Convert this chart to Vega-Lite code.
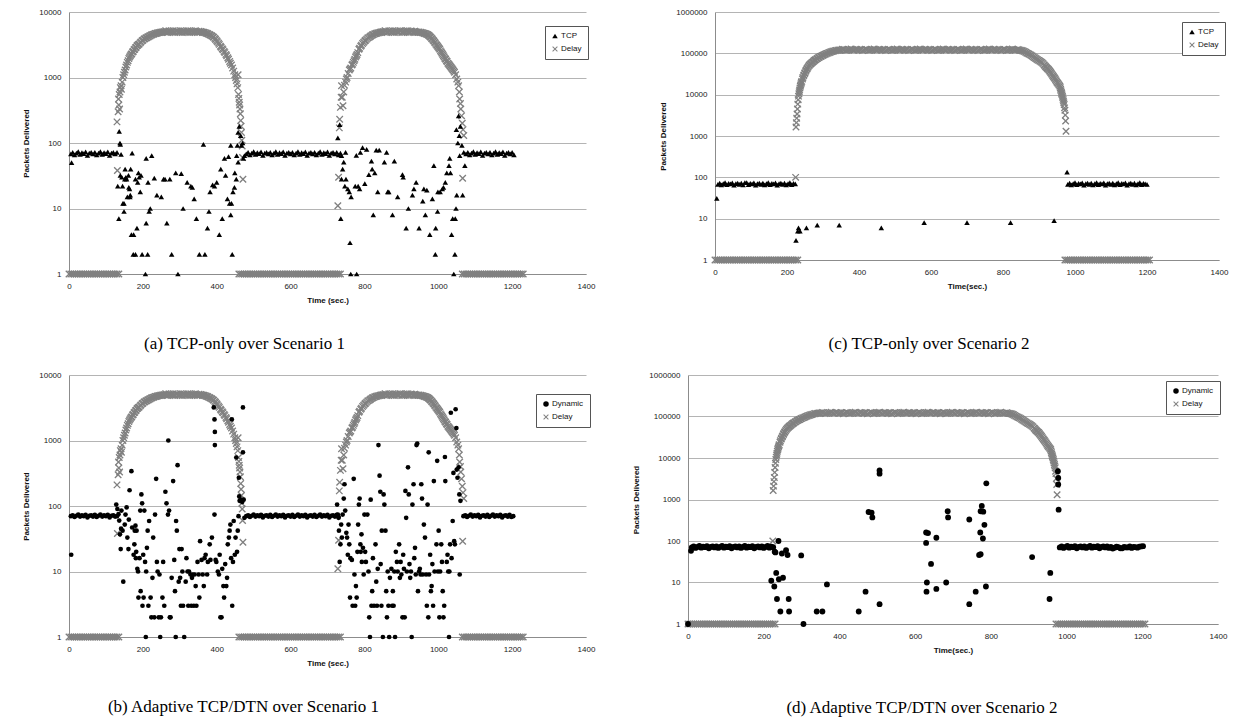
{
"$schema": "https://vega.github.io/schema/vega-lite/v6.json",
"padding": {"left": 22, "top": 8, "right": 3, "bottom": 3},
"background": "white",
"config": {
 "view": {"stroke": null},
 "axis": {"labelFont": "Liberation Sans", "labelFontSize": 8, "labelColor": "#222222", "titleFont": "Liberation Sans", "titleFontSize": 8, "titleFontWeight": "bold", "titleColor": "#111111", "domainColor": "#8c8c8c", "domainWidth": 1, "ticks": false, "gridColor": "#b4b4b4", "gridWidth": 1, "labelFlush": false},
 "axisX": {"grid": false, "labelPadding": 8, "titlePadding": 6},
 "axisY": {"grid": true, "labelPadding": 8, "titlePadding": 8},
 "legend": {"labelFont": "Liberation Sans", "labelFontSize": 8, "labelColor": "#111111", "strokeColor": "#555555", "fillColor": "white", "padding": 6, "rowPadding": 5, "symbolSize": 30, "labelOffset": 2, "symbolStrokeWidth": 0}
},
"datasets": {
"D1": [
{"t":0,"v":1},{"t":5,"v":1},{"t":10,"v":1},{"t":15,"v":1},{"t":20,"v":1},{"t":25,"v":1},{"t":30,"v":1},{"t":35,"v":1},{"t":40,"v":1},{"t":45,"v":1},{"t":50,"v":1},{"t":55,"v":1},{"t":60,"v":1},{"t":65,"v":1},{"t":70,"v":1},{"t":75,"v":1},{"t":80,"v":1},{"t":85,"v":1},{"t":90,"v":1},{"t":95,"v":1},{"t":100,"v":1},{"t":105,"v":1},{"t":110,"v":1},{"t":115,"v":1},{"t":120,"v":1},{"t":125,"v":1},{"t":130,"v":1},{"t":135,"v":1},
{"t":130,"v":210},{"t":131,"v":38},{"t":133,"v":300},{"t":134,"v":470},{"t":135,"v":380},{"t":136,"v":550},{"t":137,"v":330},{"t":138,"v":600},{"t":139,"v":700},{"t":141,"v":750},{"t":142,"v":660},{"t":144,"v":850},{"t":146,"v":1000},{"t":148,"v":1100},{"t":150,"v":1200},{"t":152,"v":1300},{"t":154,"v":1450},{"t":156,"v":1550},{"t":158,"v":1700},{"t":160,"v":1800},{"t":162,"v":1950},{"t":164,"v":2050},{"t":166,"v":2150},{"t":168,"v":2250},{"t":170,"v":2300},{"t":172,"v":2450},{"t":174,"v":2500},{"t":176,"v":2650},{"t":178,"v":2700},{"t":180,"v":2850},{"t":182,"v":2900},{"t":184,"v":3050},{"t":186,"v":3100},{"t":188,"v":3200},{"t":190,"v":3250},{"t":193,"v":3400},{"t":195,"v":3500},{"t":198,"v":3650},{"t":200,"v":3700},{"t":203,"v":3850},{"t":205,"v":3900},{"t":208,"v":4000},{"t":210,"v":4050},{"t":213,"v":4150},{"t":215,"v":4200},{"t":218,"v":4300},{"t":220,"v":4350},{"t":223,"v":4450},{"t":225,"v":4500},{"t":228,"v":4550},{"t":230,"v":4600},{"t":233,"v":4700},{"t":235,"v":4700},{"t":238,"v":4750},{"t":240,"v":4800},{"t":243,"v":4850},{"t":245,"v":4850},{"t":248,"v":4900},{"t":250,"v":4900},{"t":253,"v":4950},{"t":255,"v":4950},{"t":258,"v":5000},{"t":260,"v":5000},{"t":262,"v":5200},{"t":265,"v":5000},{"t":267,"v":4850},{"t":270,"v":5100},{"t":272,"v":5150},{"t":275,"v":5050},{"t":277,"v":4900},{"t":280,"v":4950},{"t":282,"v":5200},{"t":285,"v":5000},{"t":287,"v":4850},{"t":290,"v":5100},{"t":292,"v":5150},{"t":295,"v":5000},{"t":297,"v":4900},{"t":300,"v":4950},{"t":302,"v":5200},{"t":305,"v":5050},{"t":307,"v":4850},{"t":310,"v":5100},{"t":312,"v":5150},{"t":315,"v":5000},{"t":317,"v":4900},{"t":320,"v":4950},{"t":322,"v":5200},{"t":325,"v":5050},{"t":327,"v":4850},{"t":330,"v":5100},{"t":332,"v":5150},{"t":335,"v":5000},{"t":337,"v":4900},{"t":340,"v":4950},{"t":342,"v":5200},{"t":345,"v":5050},{"t":347,"v":4850},{"t":350,"v":5000},{"t":352,"v":5100},{"t":355,"v":4950},{"t":357,"v":5050},{"t":360,"v":4950},{"t":362,"v":4900},{"t":365,"v":4900},{"t":367,"v":4850},{"t":370,"v":4800},{"t":372,"v":4750},{"t":375,"v":4700},{"t":377,"v":4600},{"t":380,"v":4550},{"t":382,"v":4450},{"t":385,"v":4400},{"t":387,"v":4300},{"t":390,"v":4200},{"t":392,"v":4100},{"t":395,"v":3950},{"t":397,"v":3800},{"t":400,"v":3650},{"t":402,"v":3500},{"t":405,"v":3350},{"t":407,"v":3200},{"t":410,"v":3000},{"t":412,"v":2900},{"t":415,"v":2750},{"t":417,"v":2650},{"t":420,"v":2500},{"t":422,"v":2400},{"t":425,"v":2250},{"t":427,"v":2150},{"t":430,"v":2000},{"t":432,"v":1900},{"t":435,"v":1750},{"t":437,"v":1650},{"t":440,"v":1550},{"t":443,"v":1400},{"t":446,"v":1250},{"t":449,"v":1100},{"t":451,"v":1000},{"t":453,"v":900},{"t":455,"v":800},{"t":457,"v":700},{"t":458,"v":1100},{"t":459,"v":550},{"t":460,"v":480},{"t":461,"v":420},{"t":462,"v":380},{"t":463,"v":330},{"t":464,"v":280},{"t":465,"v":220},{"t":466,"v":180},{"t":467,"v":145},{"t":468,"v":110},{"t":469,"v":90},{"t":470,"v":60},{"t":471,"v":28},
{"t":460,"v":1},{"t":465,"v":1},{"t":470,"v":1},{"t":475,"v":1},{"t":480,"v":1},{"t":485,"v":1},{"t":490,"v":1},{"t":495,"v":1},{"t":500,"v":1},{"t":505,"v":1},{"t":510,"v":1},{"t":515,"v":1},{"t":520,"v":1},{"t":525,"v":1},{"t":530,"v":1},{"t":535,"v":1},{"t":540,"v":1},{"t":545,"v":1},{"t":550,"v":1},{"t":555,"v":1},{"t":560,"v":1},{"t":565,"v":1},{"t":570,"v":1},{"t":575,"v":1},{"t":580,"v":1},{"t":585,"v":1},{"t":590,"v":1},{"t":595,"v":1},{"t":600,"v":1},{"t":605,"v":1},{"t":610,"v":1},{"t":615,"v":1},{"t":620,"v":1},{"t":625,"v":1},{"t":630,"v":1},{"t":635,"v":1},{"t":640,"v":1},{"t":645,"v":1},{"t":650,"v":1},{"t":655,"v":1},{"t":660,"v":1},{"t":665,"v":1},{"t":670,"v":1},{"t":675,"v":1},{"t":680,"v":1},{"t":685,"v":1},{"t":690,"v":1},{"t":695,"v":1},{"t":700,"v":1},{"t":705,"v":1},{"t":710,"v":1},{"t":715,"v":1},{"t":720,"v":1},{"t":725,"v":1},{"t":730,"v":1},{"t":735,"v":1},
{"t":728,"v":11},{"t":730,"v":30},{"t":732,"v":170},{"t":733,"v":230},{"t":735,"v":350},{"t":737,"v":500},{"t":738,"v":750},{"t":740,"v":500},{"t":742,"v":370},{"t":744,"v":600},{"t":746,"v":760},{"t":749,"v":850},{"t":751,"v":950},{"t":753,"v":1000},{"t":756,"v":1150},{"t":759,"v":1300},{"t":761,"v":1350},{"t":763,"v":1400},{"t":766,"v":1550},{"t":768,"v":1600},{"t":770,"v":1700},{"t":772,"v":1800},{"t":774,"v":1900},{"t":776,"v":2050},{"t":778,"v":2150},{"t":780,"v":2250},{"t":782,"v":2400},{"t":785,"v":2700},{"t":787,"v":2800},{"t":790,"v":3000},{"t":792,"v":3100},{"t":795,"v":3300},{"t":798,"v":3450},{"t":801,"v":3600},{"t":803,"v":3700},{"t":806,"v":3850},{"t":809,"v":4000},{"t":812,"v":4100},{"t":815,"v":4200},{"t":817,"v":4300},{"t":820,"v":4400},{"t":822,"v":4500},{"t":825,"v":4550},{"t":828,"v":4650},{"t":831,"v":4700},{"t":833,"v":4750},{"t":836,"v":4800},{"t":838,"v":4800},{"t":841,"v":4850},{"t":843,"v":4900},{"t":846,"v":4950},{"t":848,"v":4950},{"t":851,"v":5000},{"t":853,"v":5000},{"t":856,"v":5200},{"t":858,"v":5050},{"t":861,"v":4850},{"t":863,"v":5000},{"t":866,"v":5150},{"t":868,"v":5100},{"t":871,"v":4900},{"t":873,"v":4950},{"t":876,"v":5200},{"t":878,"v":5050},{"t":881,"v":4850},{"t":883,"v":5100},{"t":886,"v":5150},{"t":888,"v":5000},{"t":891,"v":4900},{"t":893,"v":4950},{"t":896,"v":5200},{"t":898,"v":5100},{"t":901,"v":4850},{"t":903,"v":5000},{"t":906,"v":5150},{"t":908,"v":5050},{"t":911,"v":4900},{"t":913,"v":5100},{"t":916,"v":5200},{"t":918,"v":5000},{"t":921,"v":4850},{"t":923,"v":4950},{"t":926,"v":5150},{"t":928,"v":5050},{"t":931,"v":4900},{"t":933,"v":5000},{"t":936,"v":5100},{"t":938,"v":5000},{"t":941,"v":4900},{"t":943,"v":4950},{"t":946,"v":4900},{"t":948,"v":4950},{"t":951,"v":4850},{"t":953,"v":4900},{"t":956,"v":4850},{"t":958,"v":4800},{"t":961,"v":4750},{"t":963,"v":4700},{"t":966,"v":4650},{"t":968,"v":4600},{"t":970,"v":4550},{"t":972,"v":4500},{"t":974,"v":4400},{"t":976,"v":4300},{"t":978,"v":4200},{"t":980,"v":4100},{"t":982,"v":3950},{"t":984,"v":3850},{"t":986,"v":3700},{"t":988,"v":3600},{"t":990,"v":3450},{"t":992,"v":3350},{"t":994,"v":3200},{"t":996,"v":3100},{"t":998,"v":3000},{"t":1000,"v":2900},{"t":1002,"v":2800},{"t":1004,"v":2700},{"t":1006,"v":2550},{"t":1008,"v":2450},{"t":1010,"v":2350},{"t":1012,"v":2250},{"t":1014,"v":2150},{"t":1016,"v":2050},{"t":1018,"v":1950},{"t":1020,"v":1900},{"t":1022,"v":1800},{"t":1024,"v":1750},{"t":1026,"v":1650},{"t":1028,"v":1600},{"t":1030,"v":1550},{"t":1032,"v":1500},{"t":1034,"v":1450},{"t":1036,"v":1400},{"t":1038,"v":1350},{"t":1040,"v":1300},{"t":1042,"v":1250},{"t":1044,"v":1200},{"t":1047,"v":1100},{"t":1050,"v":950},{"t":1053,"v":850},{"t":1055,"v":750},{"t":1057,"v":600},{"t":1058,"v":470},{"t":1060,"v":400},{"t":1061,"v":330},{"t":1063,"v":260},{"t":1065,"v":200},{"t":1066,"v":29},{"t":1067,"v":160},{"t":1069,"v":130},
{"t":1065,"v":1},{"t":1070,"v":1},{"t":1075,"v":1},{"t":1080,"v":1},{"t":1085,"v":1},{"t":1090,"v":1},{"t":1095,"v":1},{"t":1100,"v":1},{"t":1105,"v":1},{"t":1110,"v":1},{"t":1115,"v":1},{"t":1120,"v":1},{"t":1125,"v":1},{"t":1130,"v":1},{"t":1135,"v":1},{"t":1140,"v":1},{"t":1145,"v":1},{"t":1150,"v":1},{"t":1155,"v":1},{"t":1160,"v":1},{"t":1165,"v":1},{"t":1170,"v":1},{"t":1175,"v":1},{"t":1180,"v":1},{"t":1185,"v":1},{"t":1190,"v":1},{"t":1195,"v":1},{"t":1200,"v":1},{"t":1205,"v":1},{"t":1210,"v":1},{"t":1215,"v":1},{"t":1220,"v":1},{"t":1225,"v":1},{"t":1230,"v":1}
],
"D2": [
{"t":0,"v":1},{"t":5,"v":1},{"t":10,"v":1},{"t":15,"v":1},{"t":20,"v":1},{"t":25,"v":1},{"t":30,"v":1},{"t":35,"v":1},{"t":40,"v":1},{"t":45,"v":1},{"t":50,"v":1},{"t":55,"v":1},{"t":60,"v":1},{"t":65,"v":1},{"t":70,"v":1},{"t":75,"v":1},{"t":80,"v":1},{"t":85,"v":1},{"t":90,"v":1},{"t":95,"v":1},{"t":100,"v":1},{"t":105,"v":1},{"t":110,"v":1},{"t":115,"v":1},{"t":120,"v":1},{"t":125,"v":1},{"t":130,"v":1},{"t":135,"v":1},{"t":140,"v":1},{"t":145,"v":1},{"t":150,"v":1},{"t":155,"v":1},{"t":160,"v":1},{"t":165,"v":1},{"t":170,"v":1},{"t":175,"v":1},{"t":180,"v":1},{"t":185,"v":1},{"t":190,"v":1},{"t":195,"v":1},{"t":200,"v":1},{"t":205,"v":1},{"t":210,"v":1},{"t":215,"v":1},{"t":220,"v":1},{"t":225,"v":1},{"t":230,"v":1},
{"t":224,"v":100},{"t":225,"v":1650},{"t":226,"v":2100},{"t":227,"v":2700},{"t":228,"v":3400},{"t":229,"v":4500},{"t":230,"v":5900},{"t":231,"v":7500},{"t":232,"v":9200},{"t":233,"v":10500},{"t":234,"v":11800},{"t":235,"v":13000},{"t":236,"v":14500},{"t":237,"v":16000},{"t":238,"v":17200},{"t":239,"v":18500},{"t":240,"v":19800},{"t":241,"v":21000},{"t":243,"v":24000},{"t":244,"v":26000},{"t":246,"v":28500},{"t":247,"v":30000},{"t":249,"v":32500},{"t":250,"v":34000},{"t":252,"v":37000},{"t":253,"v":39000},{"t":255,"v":41500},{"t":256,"v":43000},{"t":258,"v":46000},{"t":260,"v":49000},{"t":262,"v":51500},{"t":264,"v":54000},{"t":266,"v":56000},{"t":268,"v":58000},{"t":270,"v":60000},{"t":272,"v":62000},{"t":274,"v":64500},{"t":276,"v":67000},{"t":278,"v":69000},{"t":280,"v":71000},{"t":283,"v":74000},{"t":285,"v":76000},{"t":288,"v":79000},{"t":290,"v":81000},{"t":293,"v":83500},{"t":295,"v":85000},{"t":298,"v":88000},{"t":300,"v":90000},{"t":303,"v":92500},{"t":306,"v":95000},{"t":309,"v":97500},{"t":312,"v":100000},{"t":315,"v":102500},{"t":318,"v":105000},{"t":321,"v":107500},{"t":324,"v":110000},{"t":327,"v":112000},{"t":330,"v":114000},{"t":334,"v":116000},{"t":337,"v":118000},{"t":341,"v":119000},{"t":344,"v":120000},{"t":347,"v":121000},
{"t":350,"v":121000},{"t":354,"v":126000},{"t":358,"v":124000},{"t":362,"v":118000},{"t":366,"v":119000},{"t":370,"v":122000},{"t":374,"v":123000},{"t":378,"v":127000},{"t":382,"v":122000},{"t":386,"v":119000},{"t":390,"v":125000},{"t":394,"v":124000},{"t":398,"v":120000},{"t":402,"v":121000},{"t":406,"v":123000},{"t":410,"v":117000},{"t":414,"v":121000},{"t":418,"v":126000},{"t":422,"v":124000},{"t":426,"v":118000},{"t":430,"v":119000},{"t":434,"v":122000},{"t":438,"v":123000},{"t":442,"v":127000},{"t":446,"v":122000},{"t":450,"v":119000},{"t":454,"v":125000},{"t":458,"v":124000},{"t":462,"v":120000},{"t":466,"v":121000},{"t":470,"v":123000},{"t":474,"v":117000},{"t":478,"v":121000},{"t":482,"v":126000},{"t":486,"v":124000},{"t":490,"v":118000},{"t":494,"v":119000},{"t":498,"v":122000},{"t":502,"v":123000},{"t":506,"v":127000},{"t":510,"v":122000},{"t":514,"v":119000},{"t":518,"v":125000},{"t":522,"v":124000},{"t":526,"v":120000},{"t":530,"v":121000},{"t":534,"v":123000},{"t":538,"v":117000},{"t":542,"v":121000},{"t":546,"v":126000},{"t":550,"v":124000},{"t":554,"v":118000},{"t":558,"v":119000},{"t":562,"v":122000},{"t":566,"v":123000},{"t":570,"v":127000},{"t":574,"v":122000},{"t":578,"v":119000},{"t":582,"v":125000},{"t":586,"v":124000},{"t":590,"v":120000},{"t":594,"v":121000},{"t":598,"v":123000},{"t":602,"v":117000},{"t":606,"v":121000},{"t":610,"v":126000},{"t":614,"v":124000},{"t":618,"v":118000},{"t":622,"v":119000},{"t":626,"v":122000},{"t":630,"v":123000},{"t":634,"v":127000},{"t":638,"v":122000},{"t":642,"v":119000},{"t":646,"v":125000},{"t":650,"v":124000},{"t":654,"v":120000},{"t":658,"v":121000},{"t":662,"v":123000},{"t":666,"v":117000},{"t":670,"v":121000},{"t":674,"v":126000},{"t":678,"v":124000},{"t":682,"v":118000},{"t":686,"v":119000},{"t":690,"v":122000},{"t":694,"v":123000},{"t":698,"v":127000},{"t":702,"v":122000},{"t":706,"v":119000},{"t":710,"v":125000},{"t":714,"v":124000},{"t":718,"v":120000},{"t":722,"v":121000},{"t":726,"v":123000},{"t":730,"v":117000},{"t":734,"v":121000},{"t":738,"v":126000},{"t":742,"v":124000},{"t":746,"v":118000},{"t":750,"v":119000},{"t":754,"v":122000},{"t":758,"v":123000},{"t":762,"v":127000},{"t":766,"v":122000},{"t":770,"v":119000},{"t":774,"v":125000},{"t":778,"v":124000},{"t":782,"v":120000},{"t":786,"v":121000},{"t":790,"v":123000},{"t":794,"v":117000},{"t":798,"v":121000},{"t":802,"v":126000},{"t":806,"v":124000},{"t":810,"v":118000},{"t":814,"v":119000},{"t":818,"v":122000},{"t":822,"v":123000},{"t":826,"v":127000},{"t":830,"v":122000},{"t":834,"v":119000},{"t":838,"v":121000},{"t":842,"v":124000},{"t":845,"v":120000},
{"t":848,"v":119000},{"t":851,"v":118000},{"t":854,"v":116000},{"t":857,"v":113000},{"t":860,"v":110000},{"t":863,"v":106000},{"t":866,"v":102000},{"t":869,"v":99000},{"t":872,"v":96000},{"t":875,"v":93000},{"t":878,"v":90000},{"t":881,"v":86000},{"t":884,"v":82000},{"t":887,"v":79000},{"t":890,"v":76000},{"t":893,"v":73000},{"t":896,"v":70000},{"t":899,"v":67500},{"t":902,"v":65000},{"t":905,"v":62500},{"t":908,"v":60000},{"t":911,"v":56500},{"t":914,"v":53000},{"t":916,"v":50500},{"t":918,"v":48000},{"t":920,"v":46000},{"t":922,"v":44000},{"t":924,"v":42500},{"t":926,"v":41000},{"t":928,"v":39000},{"t":930,"v":37000},{"t":932,"v":35000},{"t":934,"v":33000},{"t":936,"v":31000},{"t":938,"v":29000},{"t":940,"v":27500},{"t":942,"v":26000},{"t":944,"v":24500},{"t":946,"v":23000},{"t":948,"v":21500},{"t":950,"v":20000},{"t":952,"v":19000},{"t":954,"v":18000},{"t":956,"v":17000},{"t":958,"v":16000},{"t":959,"v":14800},{"t":960,"v":13500},{"t":961,"v":12500},{"t":962,"v":11500},{"t":963,"v":10700},{"t":964,"v":10000},{"t":965,"v":9200},{"t":966,"v":8500},{"t":967,"v":7700},{"t":968,"v":7000},{"t":969,"v":6400},{"t":970,"v":5800},{"t":971,"v":4800},{"t":972,"v":4200},{"t":973,"v":3200},{"t":974,"v":2300},{"t":975,"v":1300},
{"t":972,"v":1},{"t":977,"v":1},{"t":982,"v":1},{"t":987,"v":1},{"t":992,"v":1},{"t":997,"v":1},{"t":1002,"v":1},{"t":1007,"v":1},{"t":1012,"v":1},{"t":1017,"v":1},{"t":1022,"v":1},{"t":1027,"v":1},{"t":1032,"v":1},{"t":1037,"v":1},{"t":1042,"v":1},{"t":1047,"v":1},{"t":1052,"v":1},{"t":1057,"v":1},{"t":1062,"v":1},{"t":1067,"v":1},{"t":1072,"v":1},{"t":1077,"v":1},{"t":1082,"v":1},{"t":1087,"v":1},{"t":1092,"v":1},{"t":1097,"v":1},{"t":1102,"v":1},{"t":1107,"v":1},{"t":1112,"v":1},{"t":1117,"v":1},{"t":1122,"v":1},{"t":1127,"v":1},{"t":1132,"v":1},{"t":1137,"v":1},{"t":1142,"v":1},{"t":1147,"v":1},{"t":1152,"v":1},{"t":1157,"v":1},{"t":1162,"v":1},{"t":1167,"v":1},{"t":1172,"v":1},{"t":1177,"v":1},{"t":1182,"v":1},{"t":1187,"v":1},{"t":1192,"v":1},{"t":1197,"v":1},{"t":1202,"v":1},{"t":1207,"v":1}
],
"aT": [
{"t":5,"v":68},{"t":7,"v":50},{"t":10,"v":72},{"t":15,"v":66},{"t":20,"v":70},{"t":25,"v":74},{"t":30,"v":67},{"t":35,"v":71},{"t":40,"v":69},{"t":45,"v":73},{"t":50,"v":65},{"t":55,"v":70},{"t":60,"v":72},{"t":65,"v":68},{"t":70,"v":72},{"t":75,"v":66},{"t":80,"v":70},{"t":85,"v":74},{"t":90,"v":67},{"t":95,"v":71},{"t":100,"v":69},{"t":105,"v":73},{"t":110,"v":65},{"t":115,"v":70},{"t":120,"v":72},{"t":125,"v":68},{"t":130,"v":72},
{"t":132,"v":22},{"t":135,"v":7},{"t":136,"v":150},{"t":138,"v":100},{"t":139,"v":95},{"t":139,"v":32},{"t":141,"v":67},{"t":143,"v":30},{"t":145,"v":22},{"t":146,"v":12},{"t":149,"v":12},{"t":149,"v":9},{"t":151,"v":28},{"t":152,"v":40},{"t":154,"v":30},{"t":156,"v":28},{"t":158,"v":15},{"t":161,"v":32},{"t":162,"v":21},{"t":164,"v":20},{"t":165,"v":15},{"t":166,"v":16},{"t":167,"v":40},{"t":169,"v":4},{"t":171,"v":70},{"t":174,"v":2},{"t":175,"v":4},{"t":180,"v":2},{"t":180,"v":28},{"t":184,"v":5},{"t":186,"v":25},{"t":188,"v":35},{"t":190,"v":30},{"t":193,"v":18},{"t":195,"v":32},{"t":198,"v":2},{"t":207,"v":1},{"t":209,"v":58},{"t":209,"v":6},{"t":213,"v":2},{"t":214,"v":25},{"t":217,"v":9},{"t":220,"v":10},{"t":224,"v":64},{"t":231,"v":29},{"t":238,"v":16},{"t":250,"v":15},{"t":256,"v":28},{"t":260,"v":28},{"t":265,"v":6},{"t":273,"v":28},{"t":278,"v":2},{"t":289,"v":35},{"t":295,"v":1},{"t":304,"v":34},{"t":309,"v":10},{"t":320,"v":25},{"t":330,"v":22},{"t":334,"v":21},{"t":339,"v":14},{"t":345,"v":7},{"t":353,"v":2},{"t":364,"v":95},{"t":368,"v":2},{"t":375,"v":5},{"t":379,"v":9},{"t":382,"v":18},{"t":389,"v":23},{"t":394,"v":22},{"t":400,"v":25},{"t":407,"v":4},{"t":411,"v":40},{"t":415,"v":7},{"t":421,"v":58},{"t":424,"v":32},{"t":429,"v":14},{"t":432,"v":62},{"t":435,"v":12},{"t":438,"v":92},{"t":438,"v":8},{"t":440,"v":12},{"t":442,"v":2},{"t":444,"v":18},{"t":448,"v":21},{"t":449,"v":35},{"t":453,"v":28},{"t":454,"v":64},{"t":456,"v":92},{"t":458,"v":51},{"t":458,"v":145},{"t":461,"v":180},{"t":465,"v":130},{"t":467,"v":92},{"t":470,"v":100},{"t":472,"v":58},
{"t":475,"v":64},{"t":480,"v":68},{"t":485,"v":72},{"t":490,"v":66},{"t":495,"v":70},{"t":500,"v":74},{"t":505,"v":67},{"t":510,"v":71},{"t":515,"v":69},{"t":520,"v":73},{"t":525,"v":65},{"t":530,"v":70},{"t":535,"v":72},{"t":540,"v":68},{"t":545,"v":72},{"t":550,"v":66},{"t":555,"v":70},{"t":560,"v":74},{"t":565,"v":67},{"t":570,"v":71},{"t":575,"v":69},{"t":580,"v":73},{"t":585,"v":65},{"t":590,"v":70},{"t":595,"v":72},{"t":600,"v":68},{"t":605,"v":72},{"t":610,"v":66},{"t":615,"v":70},{"t":620,"v":74},{"t":625,"v":67},{"t":630,"v":71},{"t":635,"v":69},{"t":640,"v":73},{"t":645,"v":65},{"t":650,"v":70},{"t":655,"v":72},{"t":660,"v":68},{"t":665,"v":72},{"t":670,"v":66},{"t":675,"v":70},{"t":680,"v":74},{"t":685,"v":67},{"t":690,"v":71},{"t":695,"v":69},{"t":700,"v":73},{"t":705,"v":65},{"t":710,"v":70},{"t":715,"v":72},{"t":720,"v":68},{"t":725,"v":72},{"t":730,"v":66},{"t":735,"v":70},
{"t":728,"v":120},{"t":733,"v":190},{"t":736,"v":7},{"t":738,"v":64},{"t":738,"v":28},{"t":741,"v":40},{"t":744,"v":51},{"t":747,"v":22},{"t":749,"v":72},{"t":750,"v":28},{"t":755,"v":20},{"t":759,"v":18},{"t":761,"v":3},{"t":763,"v":1},{"t":764,"v":15},{"t":775,"v":22},{"t":778,"v":65},{"t":779,"v":1},{"t":783,"v":22},{"t":787,"v":20},{"t":789,"v":72},{"t":795,"v":85},{"t":801,"v":24},{"t":806,"v":80},{"t":812,"v":33},{"t":819,"v":53},{"t":821,"v":40},{"t":824,"v":8},{"t":828,"v":35},{"t":832,"v":78},{"t":836,"v":18},{"t":840,"v":78},{"t":854,"v":51},{"t":860,"v":72},{"t":863,"v":18},{"t":866,"v":18},{"t":876,"v":8},{"t":881,"v":53},{"t":890,"v":15},{"t":903,"v":33},{"t":905,"v":30},{"t":913,"v":5},{"t":919,"v":10},{"t":930,"v":16},{"t":934,"v":20},{"t":940,"v":25},{"t":948,"v":5},{"t":958,"v":13},{"t":961,"v":20},{"t":965,"v":8},{"t":969,"v":19},{"t":977,"v":4},{"t":984,"v":14},{"t":988,"v":45},{"t":992,"v":2},{"t":993,"v":5},{"t":998,"v":9},{"t":999,"v":18},{"t":1005,"v":18},{"t":1011,"v":20},{"t":1014,"v":21},{"t":1019,"v":25},{"t":1023,"v":35},{"t":1029,"v":45},{"t":1031,"v":58},{"t":1033,"v":35},{"t":1036,"v":4},{"t":1039,"v":7},{"t":1042,"v":1},{"t":1045,"v":2},{"t":1046,"v":7},{"t":1048,"v":10},{"t":1050,"v":16},{"t":1049,"v":160},{"t":1053,"v":100},{"t":1055,"v":260},{"t":1057,"v":130},{"t":1058,"v":64},{"t":1060,"v":180},{"t":1064,"v":92},{"t":1066,"v":16},{"t":1069,"v":72},{"t":1072,"v":45},
{"t":1075,"v":68},{"t":1080,"v":72},{"t":1085,"v":66},{"t":1090,"v":70},{"t":1095,"v":74},{"t":1100,"v":67},{"t":1105,"v":71},{"t":1110,"v":69},{"t":1115,"v":73},{"t":1120,"v":65},{"t":1125,"v":70},{"t":1130,"v":72},{"t":1135,"v":68},{"t":1140,"v":72},{"t":1145,"v":66},{"t":1150,"v":70},{"t":1155,"v":74},{"t":1160,"v":67},{"t":1165,"v":71},{"t":1170,"v":69},{"t":1175,"v":73},{"t":1180,"v":65},{"t":1185,"v":70},{"t":1190,"v":72},{"t":1195,"v":68},{"t":1200,"v":72},{"t":1205,"v":66}
],
"bT": [
{"t":5,"v":70},{"t":6,"v":18},{"t":10,"v":72},{"t":15,"v":68},{"t":20,"v":71},{"t":25,"v":74},{"t":30,"v":69},{"t":35,"v":72},{"t":40,"v":70},{"t":45,"v":73},{"t":50,"v":67},{"t":55,"v":71},{"t":60,"v":72},{"t":65,"v":69},{"t":70,"v":73},{"t":75,"v":68},{"t":80,"v":71},{"t":85,"v":74},{"t":90,"v":69},{"t":95,"v":72},{"t":100,"v":70},{"t":105,"v":73},{"t":110,"v":67},{"t":115,"v":71},{"t":120,"v":72},{"t":125,"v":69},{"t":128,"v":105},{"t":130,"v":70},
{"t":131,"v":90},{"t":134,"v":75},{"t":136,"v":60},{"t":138,"v":37},{"t":140,"v":22},{"t":141,"v":45},{"t":142,"v":85},{"t":145,"v":42},{"t":147,"v":7},{"t":151,"v":52},{"t":153,"v":74},{"t":156,"v":95},{"t":158,"v":33},{"t":161,"v":22},{"t":162,"v":62},{"t":164,"v":174},{"t":169,"v":340},{"t":171,"v":47},{"t":175,"v":18},{"t":177,"v":26},{"t":178,"v":42},{"t":180,"v":50},{"t":181,"v":16},{"t":182,"v":20},{"t":183,"v":42},{"t":185,"v":11},{"t":187,"v":10},{"t":188,"v":4},{"t":191,"v":16},{"t":193,"v":85},{"t":194,"v":5},{"t":196,"v":150},{"t":198,"v":110},{"t":199,"v":3},{"t":201,"v":18},{"t":202,"v":4},{"t":204,"v":85},{"t":206,"v":14},{"t":208,"v":1},{"t":209,"v":10},{"t":211,"v":23},{"t":213,"v":42},{"t":215,"v":3},{"t":217,"v":59},{"t":221,"v":4},{"t":223,"v":2},{"t":226,"v":8},{"t":228,"v":33},{"t":231,"v":2},{"t":233,"v":74},{"t":236,"v":260},{"t":238,"v":14},{"t":240,"v":10},{"t":243,"v":2},{"t":245,"v":9},{"t":247,"v":1},{"t":249,"v":2},{"t":253,"v":4},{"t":255,"v":14},{"t":258,"v":3},{"t":261,"v":165},{"t":264,"v":110},{"t":268,"v":74},{"t":269,"v":1000},{"t":271,"v":85},{"t":273,"v":2},{"t":275,"v":2},{"t":278,"v":8},{"t":282,"v":240},{"t":285,"v":15},{"t":287,"v":5},{"t":289,"v":1},{"t":290,"v":59},{"t":292,"v":42},{"t":294,"v":420},{"t":297,"v":7},{"t":299,"v":22},{"t":301,"v":8},{"t":303,"v":3},{"t":305,"v":22},{"t":307,"v":10},{"t":309,"v":3},{"t":312,"v":1},{"t":316,"v":7},{"t":318,"v":16},{"t":321,"v":10},{"t":323,"v":3},{"t":325,"v":10},{"t":329,"v":9},{"t":331,"v":3},{"t":333,"v":8},{"t":335,"v":9},{"t":338,"v":3},{"t":340,"v":9},{"t":343,"v":6},{"t":345,"v":3},{"t":348,"v":14},{"t":351,"v":9},{"t":353,"v":4},{"t":355,"v":29},{"t":359,"v":15},{"t":362,"v":9},{"t":365,"v":6},{"t":367,"v":16},{"t":370,"v":18},{"t":374,"v":9},{"t":376,"v":14},{"t":381,"v":26},{"t":383,"v":15},{"t":387,"v":33},{"t":392,"v":3200},{"t":394,"v":2100},{"t":395,"v":1350},{"t":395,"v":850},{"t":394,"v":74},{"t":397,"v":15},{"t":399,"v":14},{"t":403,"v":10},{"t":406,"v":9},{"t":408,"v":18},{"t":410,"v":2},{"t":413,"v":2},{"t":415,"v":11},{"t":418,"v":6},{"t":420,"v":4},{"t":423,"v":13},{"t":426,"v":6},{"t":428,"v":8},{"t":430,"v":26},{"t":433,"v":33},{"t":435,"v":42},{"t":437,"v":52},{"t":439,"v":16},{"t":441,"v":2100},{"t":442,"v":3},{"t":444,"v":14},{"t":446,"v":59},{"t":449,"v":18},{"t":451,"v":33},{"t":453,"v":550},{"t":455,"v":20},{"t":457,"v":42},{"t":459,"v":70},{"t":460,"v":270},{"t":461,"v":140},{"t":462,"v":120},{"t":466,"v":125},{"t":469,"v":115},{"t":471,"v":3200},{"t":471,"v":660},{"t":473,"v":125},
{"t":475,"v":66},{"t":480,"v":70},{"t":485,"v":72},{"t":490,"v":68},{"t":495,"v":71},{"t":500,"v":74},{"t":505,"v":69},{"t":510,"v":72},{"t":515,"v":70},{"t":520,"v":73},{"t":525,"v":67},{"t":530,"v":71},{"t":535,"v":72},{"t":540,"v":69},{"t":545,"v":73},{"t":550,"v":68},{"t":555,"v":71},{"t":560,"v":74},{"t":565,"v":69},{"t":570,"v":72},{"t":575,"v":70},{"t":580,"v":73},{"t":585,"v":67},{"t":590,"v":71},{"t":595,"v":72},{"t":600,"v":69},{"t":605,"v":73},{"t":610,"v":68},{"t":615,"v":71},{"t":620,"v":74},{"t":625,"v":69},{"t":630,"v":72},{"t":635,"v":70},{"t":640,"v":73},{"t":645,"v":67},{"t":650,"v":71},{"t":655,"v":72},{"t":660,"v":69},{"t":665,"v":73},{"t":670,"v":68},{"t":675,"v":71},{"t":680,"v":74},{"t":685,"v":69},{"t":690,"v":72},{"t":695,"v":70},{"t":700,"v":73},{"t":705,"v":67},{"t":710,"v":71},{"t":715,"v":72},{"t":720,"v":69},{"t":725,"v":73},{"t":730,"v":68},
{"t":726,"v":105},{"t":728,"v":74},{"t":730,"v":66},{"t":731,"v":42},{"t":733,"v":14},{"t":735,"v":26},{"t":737,"v":52},{"t":739,"v":33},{"t":741,"v":74},{"t":744,"v":130},{"t":746,"v":215},{"t":748,"v":85},{"t":751,"v":39},{"t":753,"v":33},{"t":755,"v":18},{"t":757,"v":52},{"t":759,"v":26},{"t":761,"v":4},{"t":762,"v":16},{"t":766,"v":15},{"t":768,"v":3},{"t":771,"v":260},{"t":773,"v":9},{"t":775,"v":3},{"t":777,"v":6},{"t":779,"v":4},{"t":781,"v":20},{"t":783,"v":52},{"t":785,"v":105},{"t":787,"v":130},{"t":789,"v":26},{"t":790,"v":20},{"t":792,"v":37},{"t":793,"v":14},{"t":796,"v":23},{"t":798,"v":9},{"t":800,"v":74},{"t":802,"v":20},{"t":804,"v":14},{"t":808,"v":74},{"t":811,"v":10},{"t":813,"v":2},{"t":815,"v":1},{"t":817,"v":125},{"t":819,"v":3},{"t":821,"v":5},{"t":823,"v":16},{"t":826,"v":3},{"t":830,"v":26},{"t":832,"v":7},{"t":834,"v":3},{"t":836,"v":11},{"t":838,"v":850},{"t":841,"v":290},{"t":843,"v":165},{"t":844,"v":13},{"t":846,"v":3},{"t":847,"v":42},{"t":850,"v":1},{"t":852,"v":150},{"t":854,"v":105},{"t":857,"v":42},{"t":859,"v":5},{"t":861,"v":2},{"t":863,"v":10},{"t":865,"v":3},{"t":867,"v":1},{"t":869,"v":8},{"t":873,"v":11},{"t":875,"v":3},{"t":877,"v":5},{"t":879,"v":3},{"t":881,"v":10},{"t":883,"v":1},{"t":885,"v":20},{"t":888,"v":14},{"t":890,"v":10},{"t":894,"v":26},{"t":896,"v":8},{"t":898,"v":14},{"t":900,"v":9},{"t":903,"v":2},{"t":905,"v":18},{"t":907,"v":11},{"t":909,"v":2},{"t":911,"v":170},{"t":913,"v":66},{"t":915,"v":10},{"t":918,"v":390},{"t":920,"v":150},{"t":922,"v":13},{"t":924,"v":8},{"t":926,"v":10},{"t":928,"v":1},{"t":930,"v":105},{"t":933,"v":215},{"t":935,"v":16},{"t":937,"v":23},{"t":939,"v":9},{"t":941,"v":850},{"t":943,"v":900},{"t":945,"v":5},{"t":948,"v":10},{"t":950,"v":11},{"t":952,"v":9},{"t":954,"v":215},{"t":956,"v":130},{"t":958,"v":9},{"t":961,"v":52},{"t":964,"v":33},{"t":967,"v":9},{"t":969,"v":3},{"t":971,"v":105},{"t":973,"v":2},{"t":974,"v":660},{"t":975,"v":9},{"t":978,"v":18},{"t":980,"v":5},{"t":982,"v":6},{"t":984,"v":13},{"t":986,"v":3},{"t":988,"v":240},{"t":990,"v":10},{"t":995,"v":26},{"t":997,"v":490},{"t":999,"v":10},{"t":1001,"v":42},{"t":1003,"v":2},{"t":1005,"v":10},{"t":1008,"v":26},{"t":1010,"v":14},{"t":1012,"v":5},{"t":1014,"v":2},{"t":1016,"v":3},{"t":1018,"v":560},{"t":1019,"v":240},{"t":1023,"v":14},{"t":1025,"v":18},{"t":1027,"v":10},{"t":1029,"v":1},{"t":1030,"v":10},{"t":1032,"v":26},{"t":1034,"v":2650},{"t":1036,"v":16},{"t":1039,"v":59},{"t":1041,"v":320},{"t":1043,"v":29},{"t":1045,"v":26},{"t":1047,"v":3000},{"t":1049,"v":1550},{"t":1050,"v":360},{"t":1052,"v":270},{"t":1055,"v":390},{"t":1057,"v":150},{"t":1058,"v":9},{"t":1060,"v":120},
{"t":1068,"v":70},{"t":1073,"v":72},{"t":1078,"v":68},{"t":1083,"v":71},{"t":1088,"v":74},{"t":1093,"v":69},{"t":1098,"v":72},{"t":1103,"v":70},{"t":1108,"v":73},{"t":1113,"v":67},{"t":1118,"v":71},{"t":1123,"v":72},{"t":1128,"v":69},{"t":1133,"v":73},{"t":1138,"v":68},{"t":1143,"v":71},{"t":1148,"v":74},{"t":1153,"v":69},{"t":1158,"v":72},{"t":1163,"v":70},{"t":1168,"v":73},{"t":1173,"v":67},{"t":1178,"v":71},{"t":1183,"v":72},{"t":1188,"v":69},{"t":1193,"v":73},{"t":1198,"v":68},{"t":1203,"v":70}
],
"cT": [
{"t":5,"v":31},{"t":8,"v":68},{"t":13,"v":72},{"t":18,"v":66},{"t":23,"v":70},{"t":28,"v":74},{"t":33,"v":67},{"t":38,"v":71},{"t":43,"v":69},{"t":48,"v":73},{"t":53,"v":65},{"t":58,"v":70},{"t":63,"v":72},{"t":68,"v":68},{"t":73,"v":72},{"t":78,"v":66},{"t":83,"v":75},{"t":88,"v":74},{"t":93,"v":67},{"t":98,"v":71},{"t":103,"v":69},{"t":108,"v":73},{"t":113,"v":65},{"t":118,"v":70},{"t":123,"v":72},{"t":128,"v":68},{"t":133,"v":72},{"t":138,"v":66},{"t":143,"v":70},{"t":148,"v":74},{"t":153,"v":67},{"t":158,"v":71},{"t":163,"v":69},{"t":168,"v":73},{"t":173,"v":65},{"t":178,"v":70},{"t":183,"v":72},{"t":188,"v":68},{"t":193,"v":72},{"t":198,"v":66},{"t":203,"v":70},{"t":208,"v":74},{"t":213,"v":67},{"t":218,"v":71},{"t":223,"v":69},
{"t":225,"v":3},{"t":230,"v":5},{"t":232,"v":6},{"t":236,"v":5},{"t":254,"v":6},{"t":284,"v":7},{"t":345,"v":7},{"t":462,"v":6},{"t":581,"v":8},{"t":700,"v":8},{"t":821,"v":8},{"t":942,"v":9},{"t":978,"v":134},
{"t":980,"v":68},{"t":985,"v":72},{"t":990,"v":66},{"t":995,"v":70},{"t":1000,"v":74},{"t":1005,"v":67},{"t":1010,"v":71},{"t":1015,"v":69},{"t":1020,"v":73},{"t":1025,"v":65},{"t":1030,"v":70},{"t":1035,"v":72},{"t":1040,"v":68},{"t":1045,"v":72},{"t":1050,"v":66},{"t":1055,"v":70},{"t":1060,"v":74},{"t":1065,"v":67},{"t":1070,"v":71},{"t":1075,"v":69},{"t":1080,"v":73},{"t":1085,"v":65},{"t":1090,"v":70},{"t":1095,"v":72},{"t":1100,"v":68},{"t":1105,"v":72},{"t":1110,"v":66},{"t":1115,"v":70},{"t":1120,"v":74},{"t":1125,"v":67},{"t":1130,"v":71},{"t":1135,"v":69},{"t":1140,"v":73},{"t":1145,"v":65},{"t":1150,"v":70},{"t":1155,"v":72},{"t":1160,"v":68},{"t":1165,"v":72},{"t":1170,"v":66},{"t":1175,"v":70},{"t":1180,"v":74},{"t":1185,"v":67},{"t":1190,"v":71},{"t":1195,"v":69},{"t":1200,"v":68}
],
"dT": [
{"t":0,"v":1},{"t":8,"v":58},{"t":10,"v":70},{"t":15,"v":74},{"t":20,"v":68},{"t":25,"v":72},{"t":30,"v":76},{"t":35,"v":69},{"t":40,"v":73},{"t":45,"v":71},{"t":50,"v":75},{"t":55,"v":67},{"t":60,"v":72},{"t":65,"v":74},{"t":70,"v":70},{"t":75,"v":74},{"t":80,"v":68},{"t":85,"v":72},{"t":90,"v":76},{"t":95,"v":69},{"t":100,"v":73},{"t":105,"v":71},{"t":110,"v":75},{"t":115,"v":67},{"t":120,"v":72},{"t":125,"v":74},{"t":130,"v":70},{"t":135,"v":74},{"t":140,"v":68},{"t":145,"v":72},{"t":150,"v":76},{"t":155,"v":69},{"t":160,"v":73},{"t":165,"v":71},{"t":170,"v":75},{"t":175,"v":67},{"t":180,"v":72},{"t":185,"v":74},{"t":190,"v":70},{"t":195,"v":74},{"t":200,"v":68},{"t":205,"v":72},{"t":210,"v":76},{"t":215,"v":69},{"t":220,"v":73},{"t":225,"v":71},
{"t":229,"v":55},{"t":231,"v":53},{"t":220,"v":11},{"t":228,"v":8},{"t":233,"v":17},{"t":235,"v":4},{"t":240,"v":12},{"t":239,"v":100},{"t":244,"v":2},{"t":248,"v":50},{"t":251,"v":13},{"t":259,"v":60},{"t":263,"v":46},{"t":266,"v":4},{"t":267,"v":2},{"t":299,"v":45},{"t":305,"v":1},{"t":340,"v":2},{"t":355,"v":2},{"t":367,"v":9},{"t":451,"v":2},{"t":469,"v":6},{"t":477,"v":500},{"t":485,"v":480},{"t":487,"v":370},{"t":506,"v":5000},{"t":506,"v":4200},{"t":506,"v":3},{"t":629,"v":90},{"t":629,"v":160},{"t":634,"v":155},{"t":631,"v":10},{"t":630,"v":6},{"t":642,"v":28},{"t":656,"v":120},{"t":656,"v":7},{"t":682,"v":10},{"t":686,"v":520},{"t":687,"v":370},{"t":743,"v":330},{"t":743,"v":3},{"t":760,"v":6},{"t":769,"v":46},{"t":773,"v":48},{"t":772,"v":160},{"t":773,"v":520},{"t":776,"v":700},{"t":780,"v":510},{"t":779,"v":115},{"t":783,"v":245},{"t":788,"v":2450},{"t":787,"v":8},{"t":909,"v":41},{"t":955,"v":4},{"t":957,"v":17},{"t":977,"v":4800},{"t":978,"v":3300},{"t":978,"v":2300},{"t":979,"v":570},
{"t":982,"v":70},{"t":987,"v":74},{"t":992,"v":68},{"t":997,"v":72},{"t":1002,"v":76},{"t":1007,"v":69},{"t":1012,"v":73},{"t":1017,"v":71},{"t":1022,"v":75},{"t":1027,"v":67},{"t":1032,"v":72},{"t":1037,"v":74},{"t":1042,"v":70},{"t":1047,"v":74},{"t":1052,"v":68},{"t":1057,"v":72},{"t":1062,"v":76},{"t":1067,"v":69},{"t":1072,"v":73},{"t":1077,"v":71},{"t":1082,"v":75},{"t":1087,"v":67},{"t":1092,"v":72},{"t":1097,"v":74},{"t":1102,"v":70},{"t":1107,"v":74},{"t":1112,"v":68},{"t":1117,"v":72},{"t":1122,"v":66},{"t":1127,"v":69},{"t":1132,"v":73},{"t":1137,"v":71},{"t":1142,"v":67},{"t":1147,"v":67},{"t":1152,"v":72},{"t":1157,"v":70},{"t":1162,"v":70},{"t":1167,"v":74},{"t":1172,"v":68},{"t":1177,"v":72},{"t":1182,"v":71},{"t":1187,"v":69},{"t":1192,"v":73},{"t":1197,"v":74},{"t":1202,"v":75}
]
},
"resolve": {"scale": {"x": "independent", "y": "independent", "color": "independent", "shape": "independent"}},
"spacing": 19,
"vconcat": [
{
 "spacing": 64,
 "resolve": {"scale": {"x": "independent", "y": "independent", "color": "independent", "shape": "independent"}},
 "hconcat": [
 {
  "width": 517, "height": 262,
  "title": {"text": "(a) TCP-only over Scenario 1", "orient": "bottom", "frame": "group", "anchor": "middle", "dx": -83, "offset": 32, "font": "Liberation Serif", "fontSize": 17, "fontWeight": "normal", "color": "black"},
  "encoding": {
   "x": {"field": "t", "type": "quantitative", "scale": {"domain": [0, 1400], "nice": false}, "axis": {"values": [0,200,400,600,800,1000,1200,1400], "format": "d", "title": "Time (sec.)"}},
   "y": {"field": "v", "type": "quantitative", "scale": {"type": "log", "domain": [1, 10000], "nice": false}, "axis": {"values": [1,10,100,1000,10000], "format": "d", "title": "Packets Delivered"}}
  },
  "layer": [
   {"data": {"name": "D1"}, "mark": {"type": "point", "filled": true, "opacity": 1, "size": 55},
    "encoding": {
     "color": {"datum": "Delay", "scale": {"domain": ["TCP", "Delay"], "range": ["#000000", "#808080"]}, "legend": {"title": null, "orient": "none", "legendX": 476, "legendY": 14}},
     "shape": {"datum": "Delay", "scale": {"domain": ["TCP", "Delay"], "range": ["triangle-up", "M-1,-0.75L-0.75,-1L0,-0.25L0.75,-1L1,-0.75L0.25,0L1,0.75L0.75,1L0,0.25L-0.75,1L-1,0.75L-0.25,0Z"]}, "legend": {"title": null, "orient": "none", "legendX": 476, "legendY": 14}}}},
   {"data": {"name": "aT"}, "mark": {"type": "point", "filled": true, "opacity": 1, "size": 30},
    "encoding": {"color": {"datum": "TCP"}, "shape": {"datum": "TCP"}}}
  ]
 },
 {
  "width": 504, "height": 248,
  "title": {"text": "(c) TCP-only over Scenario 2", "orient": "bottom", "frame": "group", "anchor": "middle", "dx": -38, "offset": 46, "font": "Liberation Serif", "fontSize": 17, "fontWeight": "normal", "color": "black"},
  "encoding": {
   "x": {"field": "t", "type": "quantitative", "scale": {"domain": [0, 1400], "nice": false}, "axis": {"values": [0,200,400,600,800,1000,1200,1400], "format": "d", "title": "Time(sec.)"}},
   "y": {"field": "v", "type": "quantitative", "scale": {"type": "log", "domain": [1, 1000000], "nice": false}, "axis": {"values": [1,10,100,1000,10000,100000,1000000], "format": "d", "title": "Packets Delivered"}}
  },
  "layer": [
   {"data": {"name": "D2"}, "mark": {"type": "point", "filled": true, "opacity": 1, "size": 55},
    "encoding": {
     "color": {"datum": "Delay", "scale": {"domain": ["TCP", "Delay"], "range": ["#000000", "#808080"]}, "legend": {"title": null, "orient": "none", "legendX": 467, "legendY": 10}},
     "shape": {"datum": "Delay", "scale": {"domain": ["TCP", "Delay"], "range": ["triangle-up", "M-1,-0.75L-0.75,-1L0,-0.25L0.75,-1L1,-0.75L0.25,0L1,0.75L0.75,1L0,0.25L-0.75,1L-1,0.75L-0.25,0Z"]}, "legend": {"title": null, "orient": "none", "legendX": 467, "legendY": 10}}}},
   {"data": {"name": "cT"}, "mark": {"type": "point", "filled": true, "opacity": 1, "size": 30},
    "encoding": {"color": {"datum": "TCP"}, "shape": {"datum": "TCP"}}}
  ]
 }
 ]
},
{
 "spacing": 37,
 "resolve": {"scale": {"x": "independent", "y": "independent", "color": "independent", "shape": "independent"}},
 "hconcat": [
 {
  "width": 517, "height": 262,
  "title": {"text": "(b) Adaptive TCP/DTN over Scenario 1", "orient": "bottom", "frame": "group", "anchor": "middle", "dx": -84, "offset": 32, "font": "Liberation Serif", "fontSize": 17, "fontWeight": "normal", "color": "black"},
  "encoding": {
   "x": {"field": "t", "type": "quantitative", "scale": {"domain": [0, 1400], "nice": false}, "axis": {"values": [0,200,400,600,800,1000,1200,1400], "format": "d", "title": "Time (sec.)"}},
   "y": {"field": "v", "type": "quantitative", "scale": {"type": "log", "domain": [1, 10000], "nice": false}, "axis": {"values": [1,10,100,1000,10000], "format": "d", "title": "Packets Delivered"}}
  },
  "layer": [
   {"data": {"name": "D1"}, "mark": {"type": "point", "filled": true, "opacity": 1, "size": 55},
    "encoding": {
     "color": {"datum": "Delay", "scale": {"domain": ["Dynamic", "Delay"], "range": ["#000000", "#808080"]}, "legend": {"title": null, "orient": "none", "legendX": 467, "legendY": 19}},
     "shape": {"datum": "Delay", "scale": {"domain": ["Dynamic", "Delay"], "range": ["circle", "M-1,-0.75L-0.75,-1L0,-0.25L0.75,-1L1,-0.75L0.25,0L1,0.75L0.75,1L0,0.25L-0.75,1L-1,0.75L-0.25,0Z"]}, "legend": {"title": null, "orient": "none", "legendX": 467, "legendY": 19}}}},
   {"data": {"name": "bT"}, "mark": {"type": "point", "filled": true, "opacity": 1, "size": 22},
    "encoding": {"color": {"datum": "Dynamic"}, "shape": {"datum": "Dynamic"}}}
  ]
 },
 {
  "width": 530, "height": 249,
  "title": {"text": "(d) Adaptive TCP/DTN over Scenario 2", "orient": "bottom", "frame": "group", "anchor": "middle", "dx": -31, "offset": 46, "font": "Liberation Serif", "fontSize": 17, "fontWeight": "normal", "color": "black"},
  "encoding": {
   "x": {"field": "t", "type": "quantitative", "scale": {"domain": [0, 1400], "nice": false}, "axis": {"values": [0,200,400,600,800,1000,1200,1400], "format": "d", "title": "Time(sec.)"}},
   "y": {"field": "v", "type": "quantitative", "scale": {"type": "log", "domain": [1, 1000000], "nice": false}, "axis": {"values": [1,10,100,1000,10000,100000,1000000], "format": "d", "title": "Packets Delivered"}}
  },
  "layer": [
   {"data": {"name": "D2"}, "mark": {"type": "point", "filled": true, "opacity": 1, "size": 55},
    "encoding": {
     "color": {"datum": "Delay", "scale": {"domain": ["Dynamic", "Delay"], "range": ["#000000", "#808080"]}, "legend": {"title": null, "orient": "none", "legendX": 478, "legendY": 6}},
     "shape": {"datum": "Delay", "scale": {"domain": ["Dynamic", "Delay"], "range": ["circle", "M-1,-0.75L-0.75,-1L0,-0.25L0.75,-1L1,-0.75L0.25,0L1,0.75L0.75,1L0,0.25L-0.75,1L-1,0.75L-0.25,0Z"]}, "legend": {"title": null, "orient": "none", "legendX": 478, "legendY": 6}}}},
   {"data": {"name": "dT"}, "mark": {"type": "point", "filled": true, "opacity": 1, "size": 34},
    "encoding": {"color": {"datum": "Dynamic"}, "shape": {"datum": "Dynamic"}}}
  ]
 }
 ]
}
]
}
